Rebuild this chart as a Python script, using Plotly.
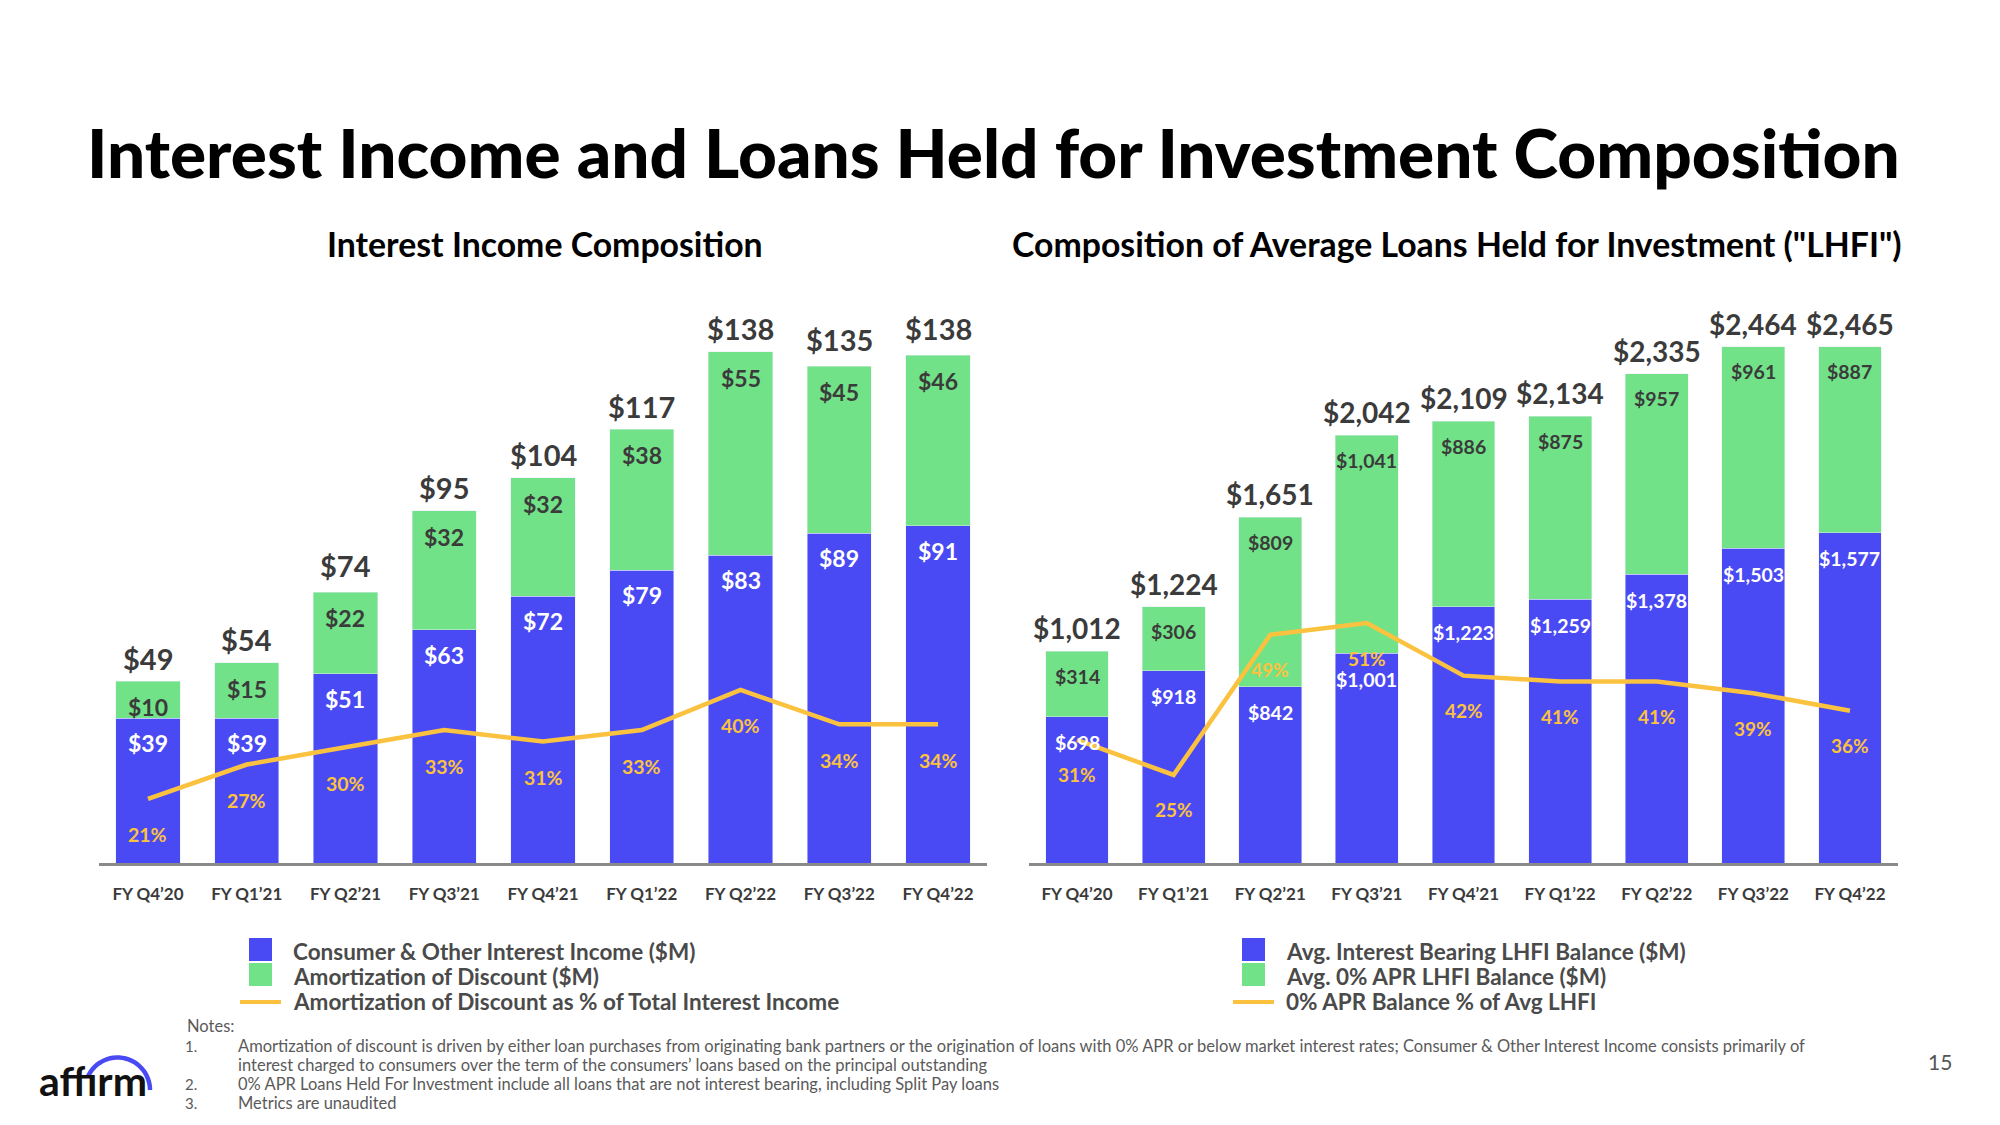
import plotly.graph_objects as go
import numpy as np

W, H = 2000, 1125

# ---------------- data ----------------
quarters = ["FY Q4’20", "FY Q1’21", "FY Q2’21", "FY Q3’21", "FY Q4’21",
            "FY Q1’22", "FY Q2’22", "FY Q3’22", "FY Q4’22"]

# Interest Income Composition ($M)
consumer_income = [39, 39, 51, 63, 72, 79, 83, 89, 91]
amortization = [10, 15, 22, 32, 32, 38, 55, 45, 46]
income_totals = [49, 54, 74, 95, 104, 117, 138, 135, 138]
amort_pct = [21, 27, 30, 33, 31, 33, 40, 34, 34]

# Composition of Average LHFI ($M)
interest_bearing = [698, 918, 842, 1001, 1223, 1259, 1378, 1503, 1577]
zero_apr = [314, 306, 809, 1041, 886, 875, 957, 961, 887]
lhfi_totals = [1012, 1224, 1651, 2042, 2109, 2134, 2335, 2464, 2465]
zero_apr_pct = [31, 25, 49, 51, 42, 41, 41, 39, 36]

legend_left = ["Consumer & Other Interest Income ($M)",
               "Amortization of Discount ($M)",
               "Amortization of Discount as % of Total Interest Income"]
legend_right = ["Avg. Interest Bearing LHFI Balance ($M)",
                "Avg. 0% APR LHFI Balance ($M)",
                "0% APR Balance % of Avg LHFI"]

notes = [
    ("1.", "Amortization of discount is driven by either loan purchases from originating bank partners or the origination of loans with 0% APR or below market interest rates; Consumer & Other Interest Income consists primarily of"),
    ("", "interest charged to consumers over the term of the consumers’ loans based on the principal outstanding"),
    ("2.", "0% APR Loans Held For Investment include all loans that are not interest bearing, including Split Pay loans"),
    ("3.", "Metrics are unaudited"),
]

# ---------------- style ----------------
BLUE = "#4A4AF4"
GREEN = "#71E287"
YELLOW = "#FBC23F"
DARK = "#3B3B3B"
FONT = "Lato, 'Noto Sans', sans-serif"


def px(x):
    return x / W


def py(y):
    return 1 - y / H


fig = go.Figure()

# Left chart
fig.add_trace(go.Bar(x=quarters, y=consumer_income, marker_color=BLUE, width=0.65,
                     xaxis="x", yaxis="y", name=legend_left[0], showlegend=False))
fig.add_trace(go.Bar(x=quarters, y=amortization, marker_color=GREEN, width=0.65,
                     xaxis="x", yaxis="y", name=legend_left[1], showlegend=False))
fig.add_trace(go.Scatter(x=quarters, y=amort_pct, mode="lines",
                         line=dict(color=YELLOW, width=4.5),
                         xaxis="x", yaxis="y2", name=legend_left[2], showlegend=False))

# Right chart
fig.add_trace(go.Bar(x=quarters, y=interest_bearing, marker_color=BLUE, width=0.65,
                     xaxis="x2", yaxis="y3", name=legend_right[0], showlegend=False))
fig.add_trace(go.Bar(x=quarters, y=zero_apr, marker_color=GREEN, width=0.65,
                     xaxis="x2", yaxis="y3", name=legend_right[1], showlegend=False))
fig.add_trace(go.Scatter(x=quarters, y=zero_apr_pct, mode="lines",
                         line=dict(color=YELLOW, width=4.5),
                         xaxis="x2", yaxis="y4", name=legend_right[2], showlegend=False))

ydom = [py(863), py(300)]

xaxis_common = dict(type="category", showgrid=False, zeroline=False, showline=True,
                    linecolor="#8A8A8A", linewidth=3, ticks="", range=[-0.5, 8.5],
                    tickfont=dict(family=FONT, size=17, color=DARK, weight="bold"),
                    ticklabelstandoff=14, fixedrange=True)

fig.update_layout(
    width=W, height=H,
    margin=dict(l=0, r=0, t=0, b=0),
    paper_bgcolor="white", plot_bgcolor="white",
    barmode="stack",
    showlegend=False,
    xaxis=dict(domain=[px(98.6), px(987.4)], anchor="y", **xaxis_common),
    yaxis=dict(domain=ydom, range=[0, 151.9], visible=False, anchor="x"),
    yaxis2=dict(overlaying="y", range=[9.85, 107.9], visible=False, anchor="x"),
    xaxis2=dict(domain=[px(1028.7), px(1898.3)], anchor="y3", **xaxis_common),
    yaxis3=dict(domain=ydom, range=[0, 2688], visible=False, anchor="x2"),
    yaxis4=dict(overlaying="y3", range=[9.93, 106.3], visible=False, anchor="x2"),
)

ann = []


def label(x, y, text, xref, yref, size, color, yshift, weight="bold"):
    ann.append(dict(x=x, y=y, xref=xref, yref=yref, text=text, showarrow=False,
                    yshift=yshift, xanchor="center", yanchor="middle",
                    font=dict(family=FONT, size=size, color=color, weight=weight)))


# Left labels
for q, b, g, t, p in zip(quarters, consumer_income, amortization, income_totals, amort_pct):
    label(q, t, f"${t:,}", "x", "y", 29, DARK, 23)
    label(q, b + g, f"${g:,}", "x", "y", 23, DARK, -26)
    label(q, b, f"${b:,}", "x", "y", 23, "white", -25)
    label(q, p, f"{p}%", "x", "y2", 19.5, YELLOW, -36)

# Right labels
for q, b, g, t, p in zip(quarters, interest_bearing, zero_apr, lhfi_totals, zero_apr_pct):
    label(q, t, f"${t:,}", "x2", "y3", 28, DARK, 23)
    label(q, b + g, f"${g:,}", "x2", "y3", 19.5, DARK, -25)
    label(q, b, f"${b:,}", "x2", "y3", 19.5, "white", -26)
    label(q, p, f"{p}%", "x2", "y4", 19, YELLOW, -35)


def text(xp, yp, s, size, color="#000", weight="bold", xanchor="center", family=FONT):
    ann.append(dict(x=px(xp), y=py(yp), xref="paper", yref="paper", text=s,
                    showarrow=False, xanchor=xanchor, yanchor="middle",
                    font=dict(family=family, size=size, color=color, weight=weight)))


# Titles
text(993, 151, "Interest Income and Loans Held for Investment Composition", 67.5, "#000", weight=900)
text(545, 244, "Interest Income Composition", 33.8, "#000")
text(1457, 244, "Composition of Average Loans Held for Investment (\"LHFI\")", 33.8, "#000")

shapes = []


def legend_block(x_sq, x_txt, items):
    ys = [951, 976, 1001]
    shapes.append(dict(type="rect", xref="paper", yref="paper",
                       x0=px(x_sq), x1=px(x_sq + 23), y0=py(961), y1=py(938),
                       fillcolor=BLUE, line=dict(width=0)))
    shapes.append(dict(type="rect", xref="paper", yref="paper",
                       x0=px(x_sq), x1=px(x_sq + 23), y0=py(986), y1=py(963),
                       fillcolor=GREEN, line=dict(width=0)))
    shapes.append(dict(type="line", xref="paper", yref="paper",
                       x0=px(x_sq - 9), x1=px(x_sq + 32), y0=py(1002), y1=py(1002),
                       line=dict(color=YELLOW, width=4)))
    for yy, s in zip(ys, items):
        text(x_txt, yy, s, 22.5, "#4A4A4A", xanchor="left")


legend_block(249, 291, legend_left)
legend_block(1242, 1284, legend_right)

# Notes
text(185, 1026, "Notes:", 16.5, "#5A5A5A", weight="normal", xanchor="left")
for (num, s), yy in zip(notes, [1046, 1065, 1084, 1103]):
    if num:
        text(183, yy, num, 15, "#5A5A5A", weight="normal", xanchor="left")
    text(236, yy, s, 16.5, "#5A5A5A", weight="normal", xanchor="left")

# Page number
text(1940, 1061, "15", 21, "#555555", weight="normal")

# Logo
text(93, 1080, "affırm", 41, "#111111", weight="bold")
cx, cy, r = 117.5, 1090, 32.5
ang = np.linspace(np.deg2rad(157), 0, 30)
pts = [(cx + r * np.cos(a), cy - r * np.sin(a)) for a in ang]
path = "M " + " L ".join(f"{px(x):.5f},{py(y):.5f}" for x, y in pts)
shapes.append(dict(type="path", xref="paper", yref="paper", path=path,
                   line=dict(color=BLUE, width=4.5)))

fig.update_layout(annotations=ann, shapes=shapes)

fig.write_html("out.html")
